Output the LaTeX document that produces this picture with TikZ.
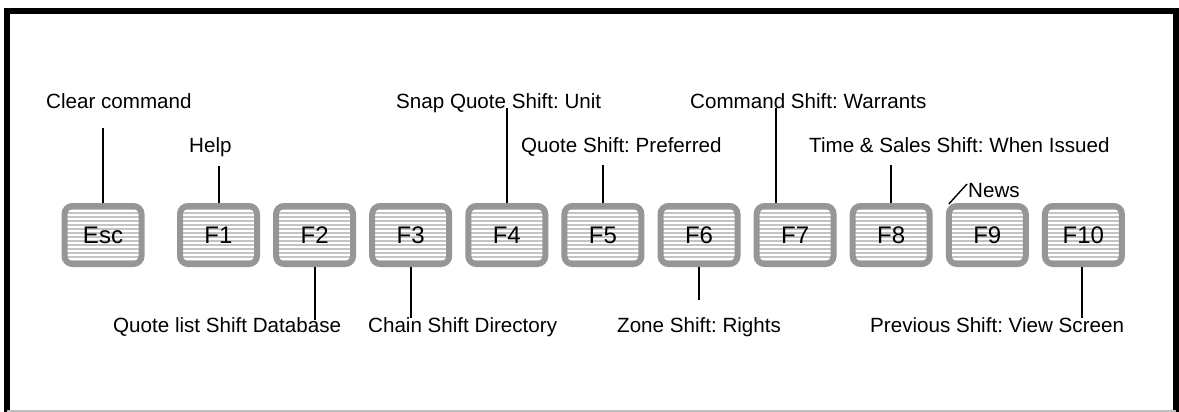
\documentclass[tikz,border=0pt]{standalone}
\usepackage{fontspec}
\setmainfont{Liberation Sans}
\definecolor{keyborder}{RGB}{150,150,150}
\definecolor{keyfill}{RGB}{196,196,196}
\begin{document}
\frenchspacing
\begin{tikzpicture}[x=1pt,y=-1pt,
  keybox/.style={draw=keyborder, line width=6pt, fill=keyfill, rounded corners=8pt,
    minimum width=77pt, minimum height=58pt, inner sep=0pt,
    text height=17.2pt, text depth=0pt,
    font=\fontsize{24}{24}\selectfont,
    path picture={\foreach \k in {-32,-28,...,32}{\draw[white,line width=1.1pt]
      ([yshift=\k pt]path picture bounding box.west) -- ([yshift=\k pt]path picture bounding box.east);}}},
  lbl/.style={anchor=base west, inner sep=0pt, font=\fontsize{20.6}{20.6}\selectfont},
  conn/.style={line width=1.4pt, black},
  frame/.style={line width=6pt, black, line join=miter}]
\useasboundingbox (0,0) rectangle (1179,412);
% frame
\draw[frame] (7,412) -- (7,11) -- (1176,11) -- (1176,412);
\draw[line width=1.5pt, black!25] (7,411) -- (1176,411);
% keys
\node[keybox] (esc) at (103,235) {Esc};
\node[keybox] (f1) at (218.5,235) {F1};
\node[keybox] (f2) at (314.6,235) {F2};
\node[keybox] (f3) at (410.7,235) {F3};
\node[keybox] (f4) at (506.8,235) {F4};
\node[keybox] (f5) at (602.9,235) {F5};
\node[keybox] (f6) at (699,235) {F6};
\node[keybox] (f7) at (795.1,235) {F7};
\node[keybox] (f8) at (891.2,235) {F8};
\node[keybox] (f9) at (987.3,235) {F9};
\node[keybox] (f10) at (1083.4,235) {F10};
% labels
\node[lbl] (lesc) at (46,108) {Clear command};
\node[lbl] (lf1) at (189,152) {Help};
\node[lbl] (lf4) at (396,108) {Snap Quote Shift: Unit};
\node[lbl] (lf5) at (521,152) {Quote Shift: Preferred};
\node[lbl] (lf7) at (690,108) {Command Shift: Warrants};
\node[lbl] (lf8) at (809,152) {Time \& Sales Shift: When Issued};
\node[lbl] (lf9) at (968,197) {News};
\node[lbl] (lf2) at (113,332) {Quote list Shift Database};
\node[lbl] (lf3) at (368,332) {Chain Shift Directory};
\node[lbl] (lf6) at (617,332) {Zone Shift: Rights};
\node[lbl] (lf10) at (870,332) {Previous Shift: View Screen};
% connector ends
\coordinate (cesc) at (103,128);
\coordinate (c1) at (219,166);
\coordinate (c4) at (507,108);
\coordinate (c5) at (603,165);
\coordinate (c7) at (776,108);
\coordinate (c8) at (891,165);
\coordinate (c9) at (967,184);
\coordinate (c2) at (315,320);
\coordinate (c3) at (411,318);
\coordinate (c6) at (699,300);
\coordinate (c10) at (1082,318);
% connectors
\draw[conn] (esc.north -| cesc) -- (cesc);
\draw[conn] (f1.north -| c1) -- (c1);
\draw[conn] (f4.north -| c4) -- (c4);
\draw[conn] (f5.north -| c5) -- (c5);
\draw[conn] (f7.north -| c7) -- (c7);
\draw[conn] (f8.north -| c8) -- (c8);
\draw[conn] ([shift={(3,1)}]f9.north west) -- (c9);
\draw[conn] (f2.south -| c2) -- (c2);
\draw[conn] (f3.south -| c3) -- (c3);
\draw[conn] (f6.south -| c6) -- (c6);
\draw[conn] (f10.south -| c10) -- (c10);
\end{tikzpicture}
\end{document}
